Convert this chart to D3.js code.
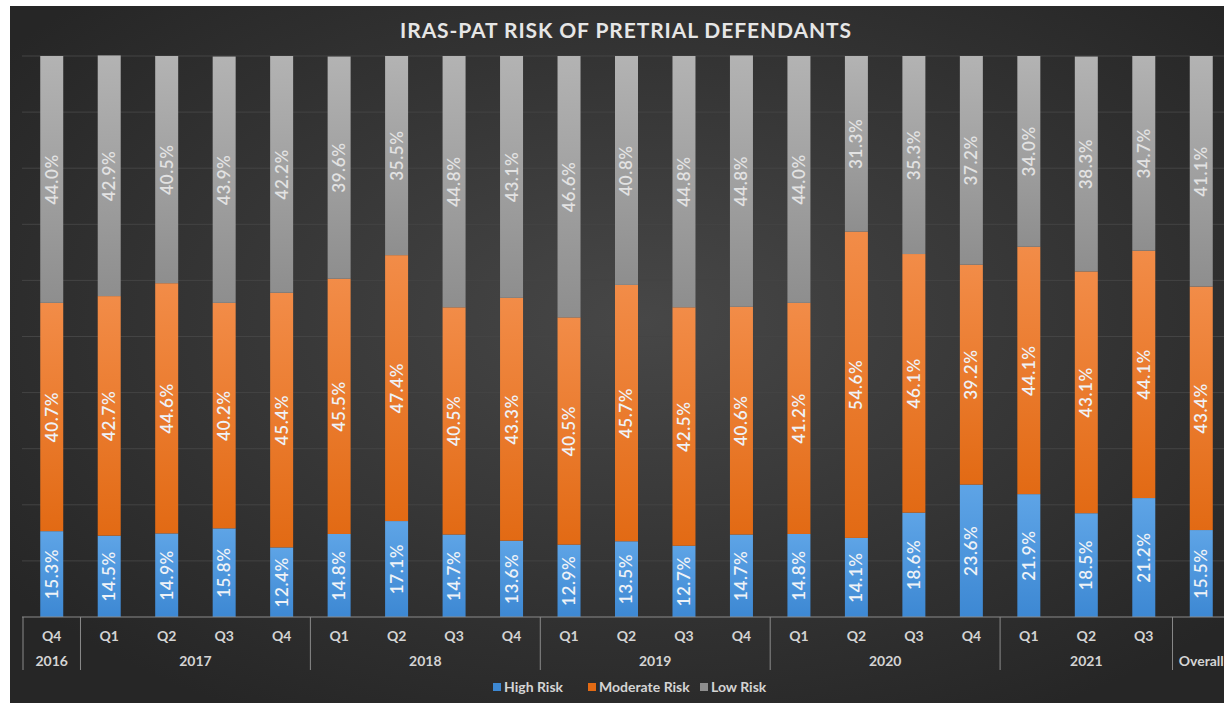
<!DOCTYPE html>
<html>
<head>
<meta charset="utf-8">
<script src="https://cdn.jsdelivr.net/npm/d3@7"></script>
<style>
  body { margin: 0; background: #fff; }
  svg { display: block; }
  text { font-family: "Century Gothic", Lato, "DejaVu Sans", sans-serif; }
</style>
</head>
<body>
<div id="chart"></div>
<script>
var quarters = ["Q4", "Q1", "Q2", "Q3", "Q4", "Q1", "Q2", "Q3", "Q4", "Q1", "Q2", "Q3", "Q4",
  "Q1", "Q2", "Q3", "Q4", "Q1", "Q2", "Q3", ""];
var years = ["2016", "2017", "2017", "2017", "2017", "2018", "2018", "2018", "2018",
  "2019", "2019", "2019", "2019", "2020", "2020", "2020", "2020", "2021", "2021", "2021", "Overall"];
var highRisk = [15.3, 14.5, 14.9, 15.8, 12.4, 14.8, 17.1, 14.7, 13.6, 12.9, 13.5, 12.7, 14.7,
  14.8, 14.1, 18.6, 23.6, 21.9, 18.5, 21.2, 15.5];
var moderateRisk = [40.7, 42.7, 44.6, 40.2, 45.4, 45.5, 47.4, 40.5, 43.3, 40.5, 45.7, 42.5, 40.6,
  41.2, 54.6, 46.1, 39.2, 44.1, 43.1, 44.1, 43.4];
var lowRisk = [44.0, 42.9, 40.5, 43.9, 42.2, 39.6, 35.5, 44.8, 43.1, 46.6, 40.8, 44.8, 44.8,
  44.0, 31.3, 35.3, 37.2, 34.0, 38.3, 34.7, 41.1];
var seriesNames = ["High Risk", "Moderate Risk", "Low Risk"];

var width = 1224, height = 703;

// one row per category, used by d3.stack
var rows = years.map(function(y, i) {
  return { id: i, "High Risk": highRisk[i], "Moderate Risk": moderateRisk[i], "Low Risk": lowRisk[i] };
});

var svg = d3.select("#chart").append("svg")
  .attr("width", width)
  .attr("height", height);

var defs = svg.append("defs");

var bg = defs.append("radialGradient").attr("id", "bg")
  .attr("cx", "52%").attr("cy", "45%").attr("r", "65%");
bg.append("stop").attr("offset", "0%").attr("stop-color", "#474747");
bg.append("stop").attr("offset", "100%").attr("stop-color", "#262626");

var grads = {
  "High Risk": ["#5ea4e6", "#3d88d3"],
  "Moderate Risk": ["#f28c48", "#e26a14"],
  "Low Risk": ["#b3b3b3", "#8e8e8e"]
};
seriesNames.forEach(function(name, i) {
  var g = defs.append("linearGradient").attr("id", "g" + i)
    .attr("x1", 0).attr("y1", 0).attr("x2", 0).attr("y2", 1);
  g.append("stop").attr("offset", "0%").attr("stop-color", grads[name][0]);
  g.append("stop").attr("offset", "100%").attr("stop-color", grads[name][1]);
});

// chart area (white strip on top/left like the screenshot)
svg.append("rect")
  .attr("x", 10).attr("y", 6)
  .attr("width", width - 10).attr("height", height - 6)
  .attr("fill", "url(#bg)");

var x = d3.scaleBand()
  .domain(d3.range(years.length))
  .range([23, 1230])
  .paddingInner(0.6)
  .paddingOuter(0.3);

var y = d3.scaleLinear()
  .domain([0, 100])
  .range([617, 56]);

var step = x.step();
var gap = (step - x.bandwidth()) / 2;

// gridlines
svg.append("g")
  .selectAll("line")
  .data(d3.range(10, 101, 10))
  .enter().append("line")
  .attr("x1", 22).attr("x2", width)
  .attr("y1", function(d) { return y(d); })
  .attr("y2", function(d) { return y(d); })
  .attr("stroke", "#444")
  .attr("stroke-width", 1);

var stack = d3.stack().keys(seriesNames);
var layers = stack(rows);

var layer = svg.selectAll(".layer")
  .data(layers)
  .enter().append("g")
  .attr("class", "layer")
  .attr("fill", function(d, i) { return "url(#g" + i + ")"; });

layer.selectAll("rect")
  .data(function(d) { return d; })
  .enter().append("rect")
  .attr("x", function(d) { return x(d.data.id); })
  .attr("width", x.bandwidth())
  .attr("y", function(d) { return y(d[1]); })
  .attr("height", function(d) { return y(d[0]) - y(d[1]); });

// value labels, rotated
layer.selectAll("text")
  .data(function(d) { return d.map(function(p) { p.key = d.key; return p; }); })
  .enter().append("text")
  .attr("transform", function(d) {
    var cx = x(d.data.id) + x.bandwidth() / 2;
    var cy = (y(d[0]) + y(d[1])) / 2;
    return "translate(" + cx + "," + cy + ") rotate(-90)";
  })
  .attr("text-anchor", "middle")
  .attr("dy", "0.35em")
  .attr("fill", function(d) { return d.key === "Low Risk" ? "#e2e2e2" : "#eef2f7"; })
  .attr("font-size", 17)
  .attr("font-weight", 600)
  .attr("letter-spacing", 0.6)
  .text(function(d) { return d.data[d.key].toFixed(1) + "%"; });

// x axis baseline
svg.append("line")
  .attr("x1", 22).attr("x2", width)
  .attr("y1", 617).attr("y2", 617)
  .attr("stroke", "#8a8a8a");

// quarter labels
svg.append("g")
  .selectAll("text")
  .data(quarters)
  .enter().append("text")
  .attr("x", function(d, i) { return x(i) + x.bandwidth() / 2; })
  .attr("y", 641)
  .attr("text-anchor", "middle")
  .attr("fill", "#d4d4d4")
  .attr("font-size", 14)
  .attr("font-weight", 700)
  .text(function(d) { return d; });

// year groups
var groups = [];
years.forEach(function(yr, i) {
  if (groups.length && groups[groups.length - 1].year === yr) groups[groups.length - 1].end = i;
  else groups.push({ year: yr, start: i, end: i });
});

svg.append("g")
  .selectAll("line")
  .data(groups)
  .enter().append("line")
  .attr("x1", function(d) { return x(d.start) - gap; })
  .attr("x2", function(d) { return x(d.start) - gap; })
  .attr("y1", 617).attr("y2", 670)
  .attr("stroke", "#8a8a8a");

svg.append("g")
  .selectAll("text")
  .data(groups)
  .enter().append("text")
  .attr("x", function(d) { return (x(d.start) + x(d.end) + x.bandwidth()) / 2; })
  .attr("y", 666)
  .attr("text-anchor", "middle")
  .attr("fill", "#d4d4d4")
  .attr("font-size", 14)
  .attr("font-weight", 700)
  .text(function(d) { return d.year; });

// title
svg.append("text")
  .attr("x", 626).attr("y", 38)
  .attr("text-anchor", "middle")
  .attr("fill", "#e6e6e6")
  .attr("font-size", 21)
  .attr("font-weight", 700)
  .attr("letter-spacing", 0.9)
  .text("IRAS-PAT RISK OF PRETRIAL DEFENDANTS");

// legend
var legendX = [493, 588, 700];
var legend = svg.append("g").selectAll("g")
  .data(seriesNames)
  .enter().append("g")
  .attr("transform", function(d, i) { return "translate(" + legendX[i] + ",687)"; });

legend.append("rect")
  .attr("x", 0).attr("y", -4)
  .attr("width", 8).attr("height", 8)
  .attr("fill", function(d) { return grads[d][1]; });

legend.append("text")
  .attr("x", 11)
  .attr("dy", "0.35em")
  .attr("fill", "#d4d4d4")
  .attr("font-size", 14)
  .attr("font-weight", 700)
  .text(function(d) { return d; });
</script>
</body>
</html>
